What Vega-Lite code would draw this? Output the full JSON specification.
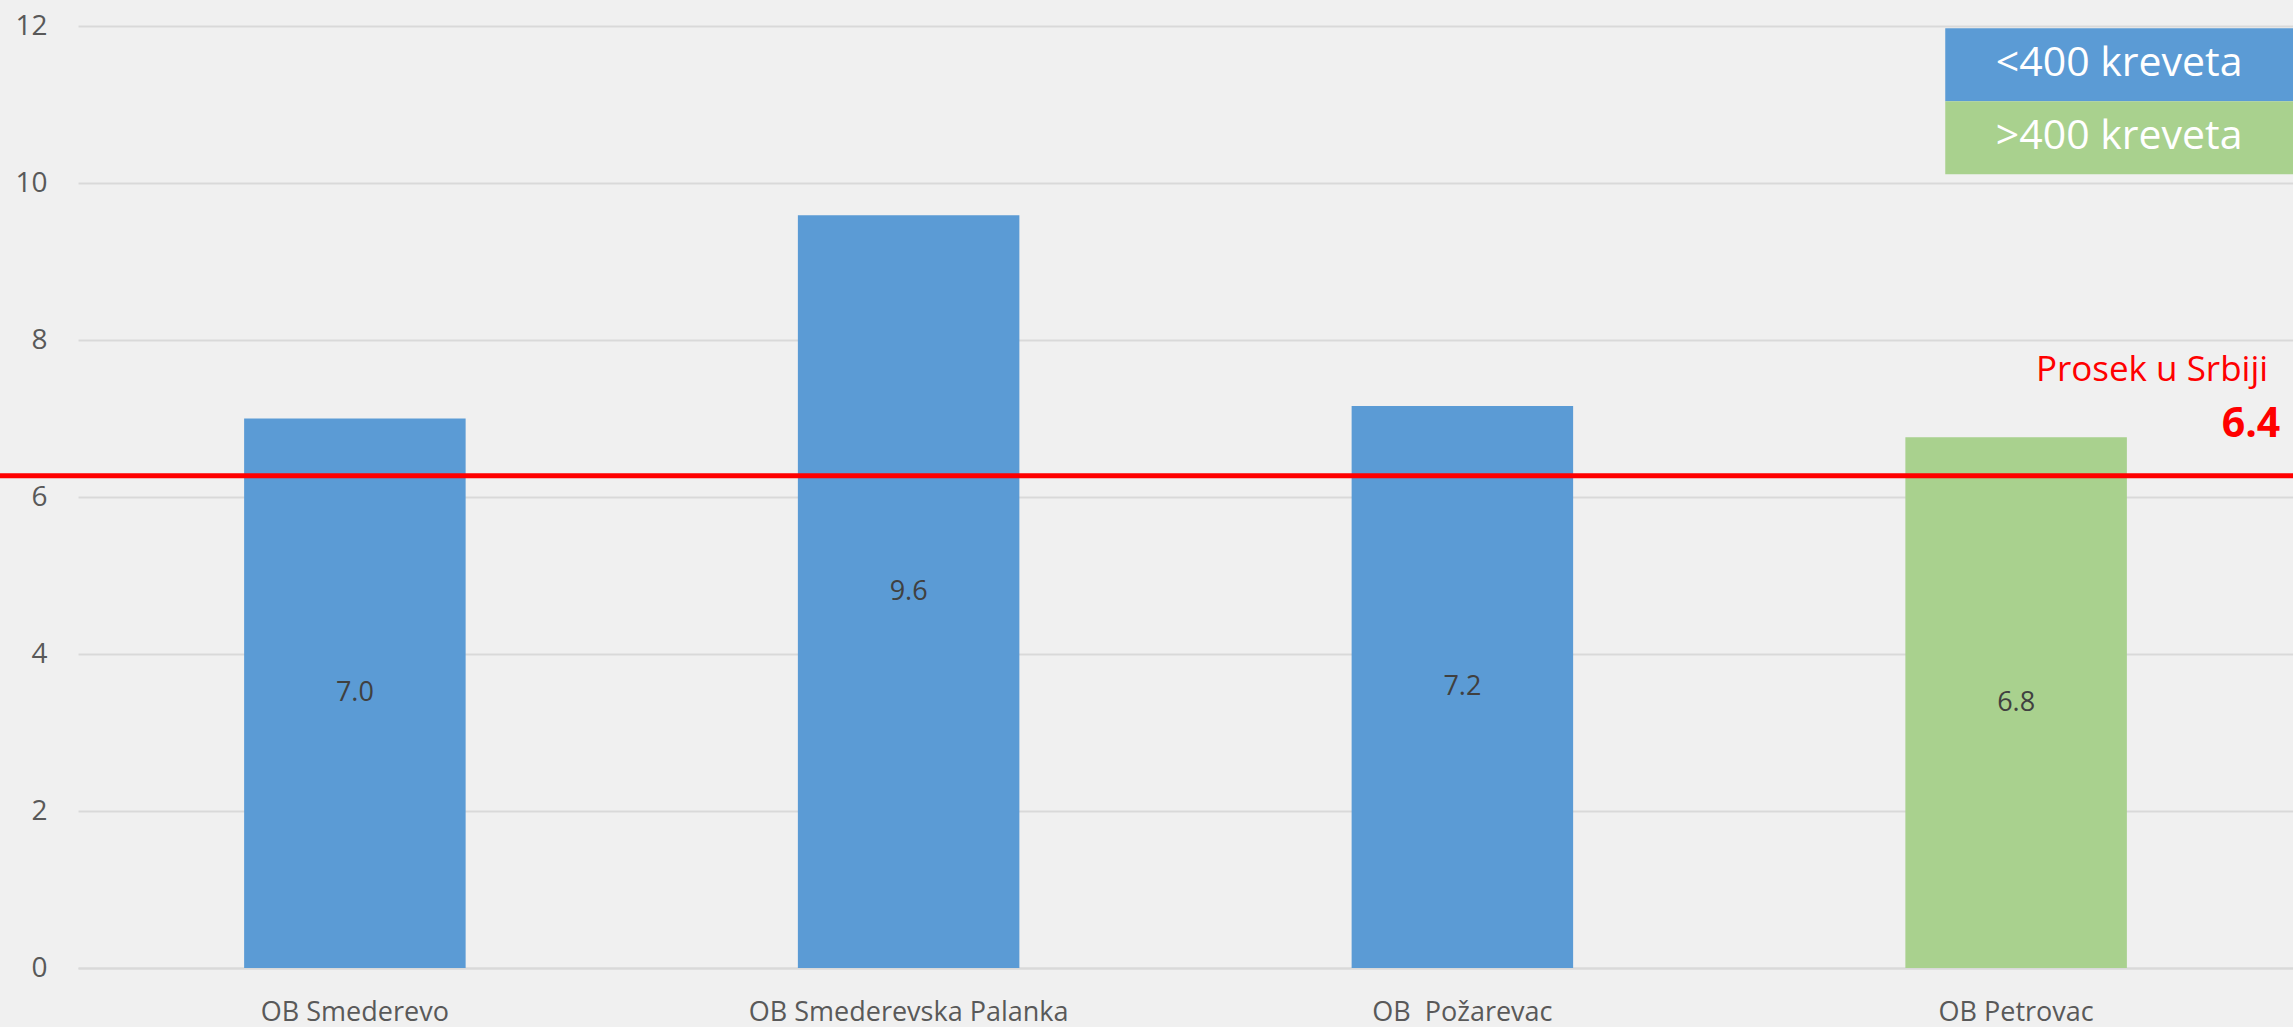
{
  "$schema": "https://vega.github.io/schema/vega-lite/v6.json",
  "width": 2215,
  "height": 942,
  "autosize": {"type": "none"},
  "padding": {"left": 78, "top": 26, "right": 0, "bottom": 59},
  "background": "#f0f0f0",
  "config": {"view": {"stroke": null}, "font": "Open Sans"},
  "data": {
    "values": [
      {"hospital": "OB Smederevo", "value": 7.0, "group": "<400 kreveta"},
      {"hospital": "OB Smederevska Palanka", "value": 9.59, "group": "<400 kreveta"},
      {"hospital": "OB \u00a0Požarevac", "value": 7.16, "group": "<400 kreveta"},
      {"hospital": "OB Petrovac", "value": 6.76, "group": ">400 kreveta"}
    ]
  },
  "layer": [
    {
      "mark": {"type": "bar"},
      "encoding": {
        "x": {
          "field": "hospital", "type": "nominal", "sort": null,
          "scale": {"paddingInner": 0.6, "paddingOuter": 0.3},
          "axis": {"title": null, "labelAngle": 0, "labelFontSize": 27, "labelLimit": 0, "labelColor": "#595959", "labelPadding": 44, "labelBaseline": "middle", "ticks": false, "domainColor": "#d9d9d9", "domainWidth": 2}
        },
        "y": {
          "field": "value", "type": "quantitative",
          "scale": {"domain": [0, 12]},
          "axis": {"title": null, "values": [0, 2, 4, 6, 8, 10, 12], "format": "d", "grid": true, "gridColor": "#d9d9d9", "gridWidth": 2, "domain": false, "ticks": false, "labelPadding": 31, "labelFontSize": 28, "labelColor": "#595959"}
        },
        "color": {
          "field": "group", "type": "nominal",
          "scale": {"domain": ["<400 kreveta", ">400 kreveta"], "range": ["#5b9bd5", "#a9d18e"]},
          "legend": null
        }
      }
    },
    {
      "mark": {"type": "text", "fontSize": 27, "color": "#404040", "baseline": "middle", "align": "center"},
      "encoding": {
        "x": {"field": "hospital", "type": "nominal", "sort": null, "scale": {"paddingInner": 0.6, "paddingOuter": 0.3}, "axis": null},
        "y": {"field": "value", "type": "quantitative", "scale": {"domain": [0, 24]}, "axis": null},
        "text": {"field": "value", "type": "quantitative", "format": ".1f"}
      }
    },
    {
      "data": {"values": [{}]},
      "layer": [
        {
          "mark": {"type": "rule", "color": "#ff0000", "strokeWidth": 5, "clip": false},
          "encoding": {
            "x": {"datum": -0.141, "type": "quantitative", "scale": {"domain": [0, 4]}, "axis": null},
            "x2": {"datum": 4},
            "y": {"datum": 6.27, "type": "quantitative", "scale": {"domain": [0, 12]}, "axis": null}
          }
        },
        {
          "mark": {"type": "rect", "color": "#5b9bd5"},
          "encoding": {
            "x": {"datum": 3.372, "type": "quantitative"},
            "x2": {"datum": 4},
            "y": {"datum": 11.97, "type": "quantitative"},
            "y2": {"datum": 11.04}
          }
        },
        {
          "mark": {"type": "rect", "color": "#a9d18e"},
          "encoding": {
            "x": {"datum": 3.372, "type": "quantitative"},
            "x2": {"datum": 4},
            "y": {"datum": 11.04, "type": "quantitative"},
            "y2": {"datum": 10.11}
          }
        },
        {
          "mark": {"type": "text", "color": "white", "fontSize": 41, "align": "center", "baseline": "middle"},
          "encoding": {
            "x": {"datum": 3.686, "type": "quantitative"},
            "y": {"datum": 11.51, "type": "quantitative"},
            "text": {"value": "<400 kreveta"}
          }
        },
        {
          "mark": {"type": "text", "color": "white", "fontSize": 41, "align": "center", "baseline": "middle"},
          "encoding": {
            "x": {"datum": 3.686, "type": "quantitative"},
            "y": {"datum": 10.58, "type": "quantitative"},
            "text": {"value": ">400 kreveta"}
          }
        },
        {
          "mark": {"type": "text", "color": "#ff0000", "fontSize": 35, "align": "right", "baseline": "middle"},
          "encoding": {
            "x": {"datum": 3.955, "type": "quantitative"},
            "y": {"datum": 7.62, "type": "quantitative"},
            "text": {"value": "Prosek u Srbiji"}
          }
        },
        {
          "mark": {"type": "text", "color": "#ff0000", "fontSize": 41, "fontWeight": "bold", "align": "right", "baseline": "middle"},
          "encoding": {
            "x": {"datum": 3.977, "type": "quantitative"},
            "y": {"datum": 6.92, "type": "quantitative"},
            "text": {"value": "6.4"}
          }
        }
      ]
    }
  ],
  "resolve": {"scale": {"x": "independent", "y": "independent"}}
}
